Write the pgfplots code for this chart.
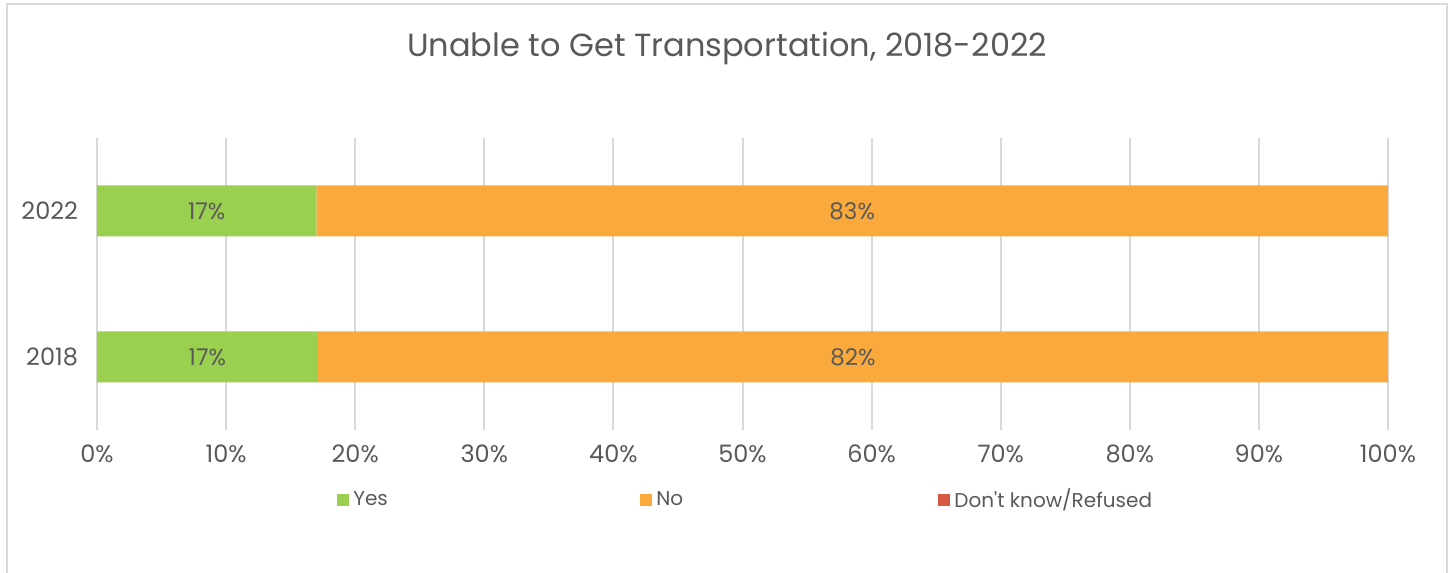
\documentclass[border=0pt]{standalone}
\usepackage{pgfplots}
\pgfplotsset{compat=1.18}
\usepackage{fontspec}
\setmainfont{Poppins}
\definecolor{cYes}{HTML}{9BCF4F}
\definecolor{cNo}{HTML}{FAA93C}
\definecolor{cDk}{HTML}{D4593F}
\definecolor{txt}{HTML}{595959}
\definecolor{grd}{HTML}{D9D9D9}
\begin{document}
\begin{tikzpicture}
% frame and title, in reference pixels (1 px = 0.5 pt)
\begin{scope}[x=0.5pt,y=0.5pt]
\path[use as bounding box] (0,0) rectangle (1453,573);
\draw[grd, line width=1pt] (7,-5) -- (7,569) -- (1447,569) -- (1447,-5);
\node[txt, font=\fontsize{16}{18}\selectfont] at (727,525) {Unable to Get Transportation, 2018-2022};
\end{scope}
\begin{axis}[
    at={(48.5pt,71.5pt)}, anchor=south west,
    width=645.5pt, height=146pt, scale only axis,
    xbar stacked, bar width=25.5pt,
    xmin=0, xmax=100, ymin=-0.5, ymax=1.5,
    axis line style={draw=none},
    xmajorgrids, grid style={grd, line width=1pt},
    xtick={0,10,...,100},
    xticklabel={\pgfmathprintnumber{\tick}\%},
    ytick={0,1}, yticklabels={2018,2022},
    tick style={draw=none},
    /pgf/number format/assume math mode=true,
    ticklabel style={txt, font=\fontsize{12}{14}\selectfont},
    xticklabel style={yshift=-4pt},
    yticklabel style={xshift=-6pt},
    legend columns=3,
    legend style={at={(0.1859,-0.2397)}, anchor=west, draw=none, fill=none,
        inner sep=0pt, column sep=0pt,
        font=\fontsize{10}{12}\selectfont, text=txt},
    legend image code/.code={\fill[#1, draw=none] (0pt,-3pt) rectangle (6pt,3pt);},
]
\addplot[fill=cYes, draw=none] coordinates {(17.1,0) (17.0,1)};
\addlegendentry{\makebox[141.5pt][l]{Yes}}
\addplot[fill=cNo, draw=none] coordinates {(82.9,0) (83.0,1)};
\addlegendentry{\makebox[139pt][l]{No}}
\addplot[fill=cDk, draw=none] coordinates {(0,0) (0,1)};
\addlegendentry{Don\textquotesingle t know/Refused}
\coordinate (y18) at (axis cs:8.55,0);
\coordinate (n18) at (axis cs:58.55,0);
\coordinate (y22) at (axis cs:8.5,1);
\coordinate (n22) at (axis cs:58.5,1);
\end{axis}
\begin{scope}[every node/.style={txt, font=\fontsize{11.5}{13}\selectfont}]
\node at (y18) {17\%};
\node at (n18) {82\%};
\node at (y22) {17\%};
\node at (n22) {83\%};
\end{scope}
\end{tikzpicture}
\end{document}
